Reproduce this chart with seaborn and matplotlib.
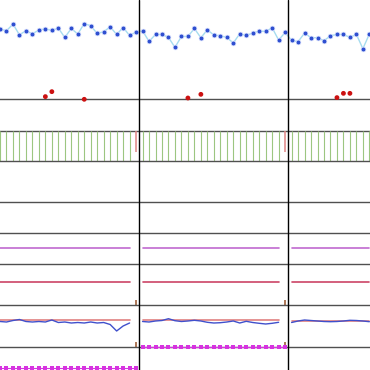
import numpy as np
import pandas as pd
import matplotlib
matplotlib.use("Agg")
import matplotlib.pyplot as plt
import seaborn as sns

sns.set_style("white")

# Visible window: days 1..58, three segments of 23 days each (break after day 22 and 45)
DAYS = list(range(1, 59))
SEG_LEN = 23
SEG_BREAKS = [22.5, 45.5]
SEG_LAST_DAYS = [22, 45]

# top panel: price dots (arbitrary units, 0..100 panel range)
PRICE = [70.7, 69.0, 75.7, 65.0, 69.0, 66.0, 69.7, 71.0, 69.3, 71.7,
         62.3, 71.3, 65.7, 76.3, 74.0, 66.3, 68.0, 73.0, 65.3, 72.3,
         64.3, 67.7, 69.0, 58.3, 65.3, 65.3, 62.3, 52.3, 63.3, 63.3,
         71.3, 62.0, 70.0, 64.7, 64.0, 62.3, 56.7, 66.0, 64.3, 66.7,
         68.7, 68.3, 72.0, 59.7, 67.3, 59.3, 58.0, 66.7, 62.0, 62.0,
         59.0, 64.0, 65.3, 65.3, 62.3, 65.3, 51.0, 65.7]
RED_DOT_DAYS = [8, 9, 14, 30, 32, 53, 54, 55]
RED_DOT_VALS = [2.7, 7.7, 0.0, 1.3, 5.0, 1.7, 6.0, 6.0]

# bar strip: green on normal days, shorter red bar on the last day of a segment
RED_BAR_LEN = 0.72

# flat levels per segment
PURPLE_LEVEL = [0.51, 0.51, 0.51]
RED_LEVEL = [0.55, 0.55, 0.55]
SALMON_LEVEL = [26.7, 26.7, 26.2]
MAGENTA_LEVEL = [1.7, 23.3]

# wavy blue line in the lower panel (days 1..21, 23..44, 46..58)
WAVE = [25.2, 24.7, 26.2, 27.2, 25.2, 24.7, 25.2, 24.7, 26.7, 24.2,
        24.7, 23.7, 24.2, 23.7, 24.7, 23.7, 24.2, 22.2, 15.7, 20.7, 23.7,
        25.2, 24.7, 25.7, 26.2, 28.0, 26.0, 25.2, 25.7, 26.4, 25.7, 24.4,
        23.7, 24.0, 24.7, 25.7, 23.7, 25.4, 24.2, 23.4, 22.7, 23.4, 24.4,
        24.2, 25.7, 26.7, 26.2, 25.7, 25.2, 25.0, 25.2, 25.7, 26.4, 26.2,
        25.7, 25.0]

TICK_LEN = 0.12

days = np.array(DAYS)
seg = days // SEG_LEN
line_days = days[days % SEG_LEN != SEG_LEN - 1]
line_seg = line_days // SEG_LEN

W = 370.0
fig = plt.figure(figsize=(3.7, 3.7), dpi=100)


def add_row(top, bottom, ylim):
    ax = fig.add_axes([0, 1 - bottom / W, 1, (bottom - top) / W])
    ax.set_xlim(1.0, 58.1)
    ax.set_ylim(*ylim)
    ax.set_xticks([])
    ax.set_yticks([])
    for s in ["top", "left", "right"]:
        ax.spines[s].set_visible(False)
    ax.spines["bottom"].set_color("#505050")
    ax.spines["bottom"].set_linewidth(1.0)
    for b in SEG_BREAKS:
        ax.axvline(b, color="black", lw=1.0, zorder=5)
    ax.patch.set_alpha(0)
    return ax


# price panel
ax0 = add_row(0, 99.3, (0, 100))
price_df = pd.DataFrame({"day": days, "price": PRICE})
sns.lineplot(data=price_df, x="day", y="price", color="#a6dcef", lw=1.0, ax=ax0)
sns.scatterplot(data=price_df, x="day", y="price", color="#2f4fd0", edgecolor="#dfe6ff",
                linewidth=0.5, s=12, ax=ax0, zorder=3)
sns.scatterplot(x=RED_DOT_DAYS, y=RED_DOT_VALS, color="#cc1111", edgecolor="none",
                s=12, ax=ax0, clip_on=False, zorder=4)

# empty panel
add_row(99.3, 130.7, (0, 1))

# bar strip
ax2 = add_row(130.7, 160.7, (0, 1))
green_days = [d for d in DAYS if d not in SEG_LAST_DAYS]
ax2.vlines(green_days, 0, 1, color="#9cc680", lw=0.8)
ax2.vlines(SEG_LAST_DAYS, 1 - RED_BAR_LEN, 1, color="#e08585", lw=1.1)

# empty panels
add_row(160.7, 201.7, (0, 1))
add_row(201.7, 233.3, (0, 1))

# purple level
ax5 = add_row(233.3, 264, (0, 1))
purple_df = pd.DataFrame({"day": line_days, "seg": line_seg,
                          "val": [PURPLE_LEVEL[s] for s in line_seg]})
sns.lineplot(data=purple_df, x="day", y="val", units="seg", estimator=None,
             color="#c06ad0", lw=1.2, ax=ax5)

# red level
ax6 = add_row(264, 305, (0, 1))
red_df = pd.DataFrame({"day": line_days, "seg": line_seg,
                       "val": [RED_LEVEL[s] for s in line_seg]})
sns.lineplot(data=red_df, x="day", y="val", units="seg", estimator=None,
             color="#cc4466", lw=1.2, ax=ax6)
ax6.vlines(SEG_LAST_DAYS, 0, TICK_LEN, color="#a0603a", lw=1.2)

# wave vs level
ax7 = add_row(305, 346.7, (0, 41.7))
wave_df = pd.DataFrame({"day": line_days, "seg": line_seg, "val": WAVE,
                        "level": [SALMON_LEVEL[s] for s in line_seg]})
sns.lineplot(data=wave_df, x="day", y="level", units="seg", estimator=None,
             color="#e08080", lw=1.2, ax=ax7)
sns.lineplot(data=wave_df, x="day", y="val", units="seg", estimator=None,
             color="#4050cc", lw=1.0, ax=ax7)
ax7.vlines(SEG_LAST_DAYS, 0, TICK_LEN * 41.7, color="#a0603a", lw=1.2)

# magenta dotted level
ax8 = add_row(346.7, 370, (0, 23.3))
ax8.spines["bottom"].set_visible(False)
mag_days = days[seg < len(MAGENTA_LEVEL)]
mag_seg = mag_days // SEG_LEN
mag_df = pd.DataFrame({"day": mag_days, "seg": mag_seg,
                       "val": [MAGENTA_LEVEL[s] for s in mag_seg]})
sns.lineplot(data=mag_df, x="day", y="val", units="seg", estimator=None,
             color="#d633e0", lw=0.8, marker="s", markersize=2.6, markeredgewidth=0,
             ax=ax8, clip_on=False)

for ax in fig.axes:
    ax.set_xlabel("")
    ax.set_ylabel("")
    if ax.get_legend() is not None:
        ax.get_legend().remove()

fig.savefig("out.png", dpi=100)
